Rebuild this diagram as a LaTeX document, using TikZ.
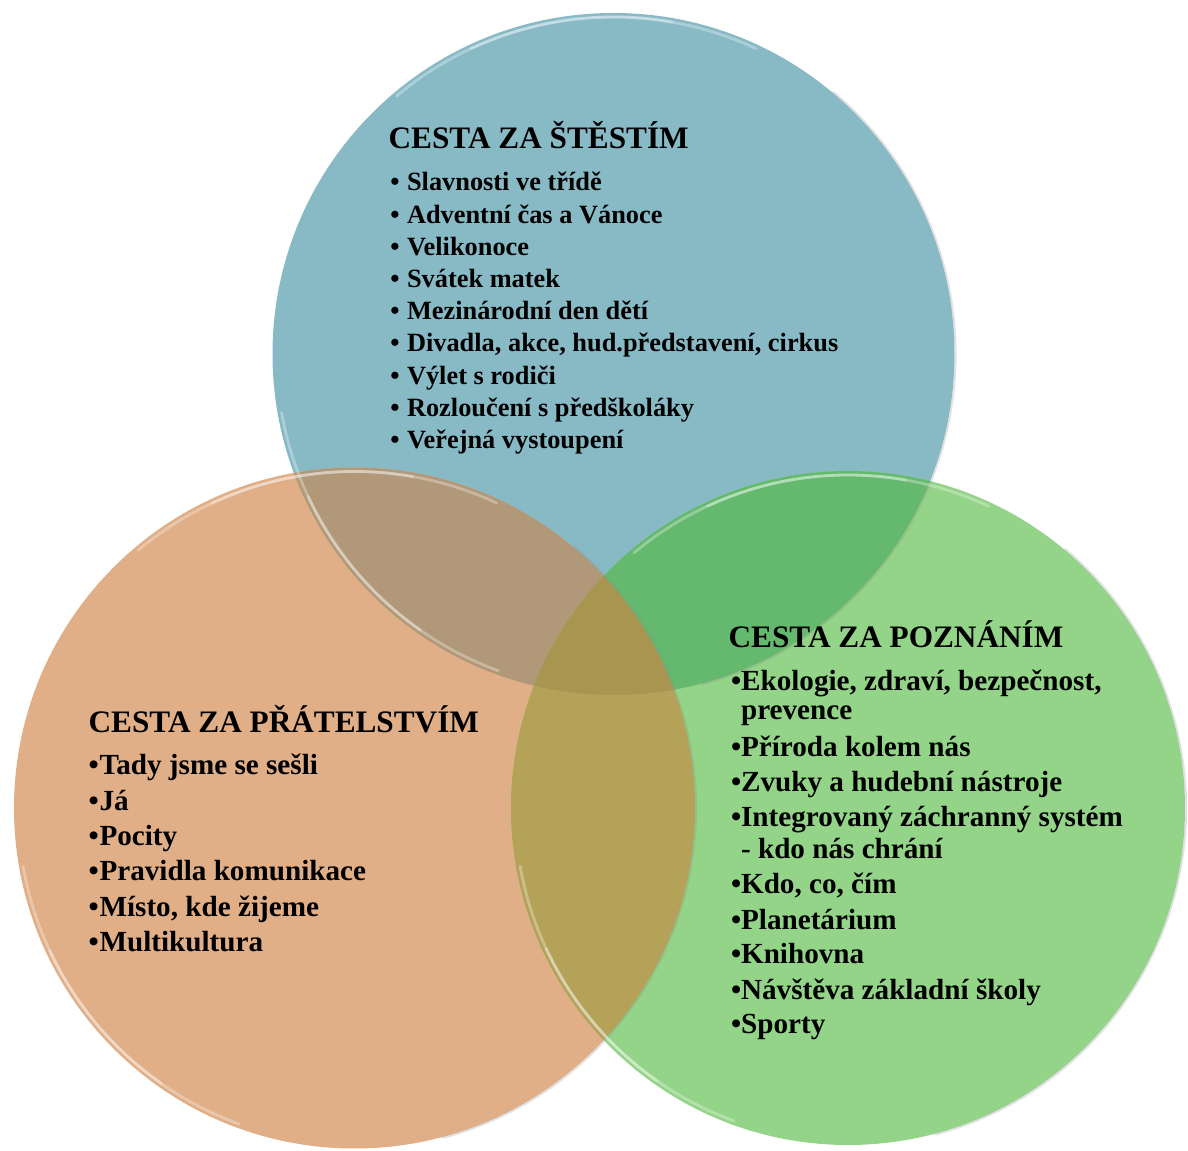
\documentclass[tikz,border=0pt]{standalone}
\usepackage{fontspec}
\setmainfont{Liberation Serif}
\usetikzlibrary{positioning}
\definecolor{stestiC}{RGB}{136,186,198}
\definecolor{pratelC}{RGB}{224,175,135}
\definecolor{poznaniC}{RGB}{148,212,136}
\definecolor{spSP}{RGB}{176,152,121}
\definecolor{spSZ}{RGB}{101,185,111}
\definecolor{spPZ}{RGB}{181,162,89}
\definecolor{spVse}{RGB}{168,149,80}
\newcommand\tecka[1]{\makebox[#1][l]{•}}

\begin{document}
\begin{tikzpicture}[x=0.02cm,y=-0.02cm,
  titul/.style={anchor=base west,inner sep=0pt,font=\bfseries\fontsize{17.8}{20}\selectfont},
  bod/.style={anchor=base west,inner sep=0pt,font=\bfseries\fontsize{16.6}{20}\selectfont},
  bodm/.style={bod,font=\bfseries\fontsize{15}{18}\selectfont},
  lesk/.style={white,opacity=.3,line width=1.6pt,line cap=round},
  stin/.style={black!45,opacity=.25,line width=1.2pt,line cap=round}]
\useasboundingbox (0,0) rectangle (1188,1151);
\coordinate (S) at (613.5,354);
\coordinate (P) at (354.5,808);
\coordinate (Z) at (848,808);
% kruhy
\fill[stestiC] (S) circle (341);
\fill[pratelC] (P) circle (340.5);
\fill[poznaniC] (Z) circle (337);
\begin{scope}
  \clip (S) circle (341);
  \fill[spSP] (P) circle (340.5);
  \fill[spSZ] (Z) circle (337);
\end{scope}
\begin{scope}
  \clip (P) circle (340.5);
  \fill[spPZ] (Z) circle (337);
\end{scope}
\begin{scope}
  \clip (S) circle (341);
  \clip (P) circle (340.5);
  \fill[spVse] (Z) circle (337);
\end{scope}
% okraje
\foreach \c/\r in {S/341,P/340.5,Z/337}{
  \draw[lesk] (\c) ++(-65:\r-4) arc[start angle=-65,end angle=-130,radius=\r-4];
  \draw[lesk] (\c) ++(-80:\r-4) arc[start angle=-80,end angle=-115,radius=\r-4];
  \draw[lesk] (\c) ++(-190:\r-4) arc[start angle=-190,end angle=-250,radius=\r-4];
  \draw[lesk] (\c) ++(-205:\r-4) arc[start angle=-205,end angle=-235,radius=\r-4];
  \draw[stin] (\c) ++(75:\r+1) arc[start angle=75,end angle=-50,radius=\r+1];
}
% CESTA ZA STESTIM
\node[titul] (stesti) at (388.3,148.3) {CESTA ZA ŠTĚSTÍM};
\foreach \t [count=\i] in {Slavnosti ve třídě, Adventní čas a Vánoce, Velikonoce,
    Svátek matek, Mezinárodní den dětí, {Divadla, akce, hud.představení, cirkus},
    Výlet s rodiči, Rozloučení s předškoláky, Veřejná vystoupení}
  \node[bodm] (st\i) at (390,{191+32.2*(\i-1)}) {\tecka{9.5pt}\t};
% CESTA ZA PRATELSTVIM
\node[titul] (pratel) at (88.3,732.3) {CESTA ZA PŘÁTELSTVÍM};
\foreach \t [count=\i] in {Tady jsme se sešli, Já, Pocity, Pravidla komunikace,
    {Místo, kde žijeme}, Multikultura}
  \node[bod] (pr\i) at (88.3,{775+35.3*(\i-1)}) {\tecka{6.2pt}\t};
% CESTA ZA POZNANIM
\node[titul] (poznani) at (728.3,647.3) {CESTA ZA POZNÁNÍM};
\foreach \t/\y [count=\i] in {{Ekologie, zdraví, bezpečnost,/691}, Příroda kolem nás/756.7,
    Zvuky a hudební nástroje/791.7, Integrovaný záchranný systém/826.7, {Kdo, co, čím/893.3},
    Planetárium/930, Knihovna/964, Návštěva základní školy/1000, Sporty/1033.3}
  \node[bod] (po\i) at (730.7,\y) {\tecka{5.7pt}\t};
\node[bod] (po1b) at (740.7,720) {prevence};
\node[bod] (po4b) at (740.7,858.3) {- kdo nás chrání};
\end{tikzpicture}
\end{document}
